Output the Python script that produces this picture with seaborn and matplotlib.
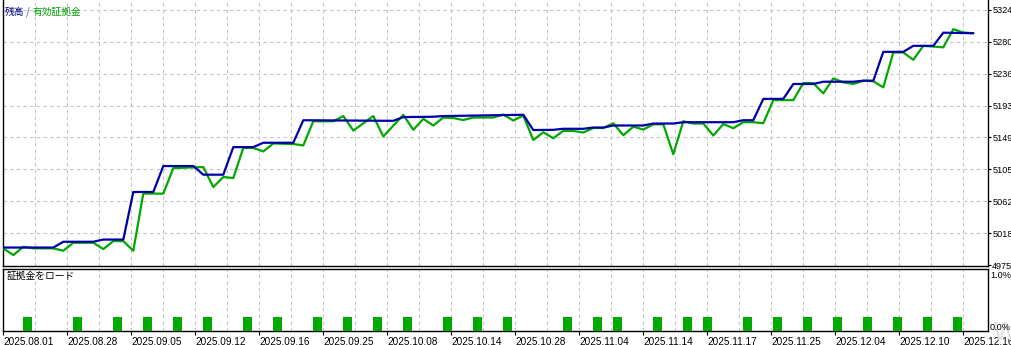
import matplotlib
matplotlib.use("Agg")
import matplotlib.pyplot as plt
import seaborn as sns
import numpy as np
import pandas as pd

# ---------------- data ----------------
# balance (残高) vertices: trade index -> value
balance_idx = [0, 5, 6, 9, 10, 12, 13, 15, 16, 19, 20, 22, 23, 25, 26, 29, 30, 39, 40, 43,
               44, 52, 53, 55, 56, 58, 59, 60, 61, 64, 65, 67, 68, 73, 74, 75, 76, 78, 79, 81,
               82, 85, 86, 87, 88, 90, 91, 93, 94, 97]
balance_val = [4998.9, 4998.9, 5006.8, 5006.8, 5009.8, 5009.8, 5074.9, 5074.9, 5110.4, 5110.4,
               5098.6, 5098.6, 5136.3, 5136.3, 5142.3, 5142.3, 5173.1, 5172.3, 5177.4, 5177.9,
               5178.8, 5180.6, 5159.7, 5160.0, 5161.4, 5161.4, 5163.1, 5163.1, 5165.9, 5165.9,
               5168.6, 5168.6, 5170.4, 5170.4, 5173.1, 5173.1, 5202.3, 5202.3, 5222.7, 5222.7,
               5225.8, 5225.8, 5227.2, 5227.2, 5266.7, 5266.7, 5274.9, 5274.9, 5292.9, 5292.2]

# equity (有効証拠金) vertices
equity_idx = [0, 1, 2, 3, 5, 6, 7, 9, 10, 11, 12, 13, 14, 16, 17, 20, 21, 22, 23, 24,
              25, 26, 27, 29, 30, 31, 33, 34, 35, 37, 38, 40, 41, 42, 43, 44, 45, 46, 47, 49,
              50, 51, 52, 53, 54, 55, 56, 57, 58, 59, 60, 61, 62, 63, 64, 65, 66, 67, 68, 69,
              70, 71, 72, 73, 74, 75, 76, 77, 79, 80, 81, 82, 83, 84, 85, 86, 87, 88, 89, 90,
              91, 92, 94, 95, 96, 97]
equity_val = [4997.8, 4988.6, 4999.9, 4997.8, 4997.8, 4994.5, 5005.4, 5005.4, 4996.8, 5007.7,
              5007.7, 4994.5, 5072.7, 5072.7, 5107.6, 5109.0, 5081.7, 5095.4, 5094.0, 5135.2,
              5135.2, 5130.4, 5141.3, 5140.6, 5138.6, 5171.7, 5171.7, 5178.8, 5159.0, 5178.8,
              5150.9, 5180.4, 5160.0, 5175.0, 5165.9, 5176.8, 5176.1, 5173.4, 5176.8, 5176.8,
              5180.9, 5172.7, 5179.5, 5146.1, 5156.7, 5148.5, 5158.6, 5158.4, 5156.3, 5162.5,
              5162.5, 5168.9, 5152.6, 5164.2, 5160.4, 5167.5, 5167.5, 5126.6, 5171.7, 5168.6,
              5168.6, 5152.2, 5167.9, 5162.2, 5170.4, 5170.4, 5169.0, 5200.6, 5200.6, 5224.1,
              5223.8, 5209.9, 5230.3, 5224.9, 5222.7, 5227.2, 5226.5, 5218.1, 5265.8, 5265.8,
              5255.8, 5274.9, 5272.9, 5297.7, 5293.1, 5292.2]

# margin load (証拠金をロード) bars, in percent
margin_idx = [2, 7, 11, 14, 17, 20, 24, 27, 31, 34, 37, 40, 44, 47, 50, 56, 59, 61, 65, 68,
              70, 74, 77, 80, 83, 86, 89, 92, 95]
margin_val = [0.22] * len(margin_idx)

y_tick_labels = ["4975", "5018", "5062", "5105", "5149", "5193", "5236", "5280", "5324"]
y_ticks = [4975 + 43.625 * k for k in range(len(y_tick_labels))]

x_tick_labels = ["2025.08.01", "2025.08.28", "2025.09.05", "2025.09.12", "2025.09.16",
                 "2025.09.25", "2025.10.08", "2025.10.14", "2025.10.28", "2025.11.04",
                 "2025.11.14", "2025.11.17", "2025.11.25", "2025.12.04", "2025.12.10",
                 "2025.12.16"]

# ---------------- style ----------------
sns.set_theme(style="white")
plt.rcParams["font.family"] = ["Liberation Sans", "Noto Sans CJK JP", "DejaVu Sans"]
CJK = ["Noto Sans CJK JP", "DejaVu Sans"]

BLUE = "#0000A8"
GREEN = "#00A800"
GRID = "#C4C4C4"

W, H = 1012, 345
fig = plt.figure(figsize=(W / 100, H / 100), dpi=100)
fig.patch.set_facecolor("white")

left = 3 / W
width = 985 / W
ax = fig.add_axes([left, 1 - 266 / H, width, 266 / H])
ax2 = fig.add_axes([left, 1 - 330.7 / H, width, (330.7 - 268.5) / H])

xmin, xmax = -0.03, 98.47
grid_x = np.arange(3.2, xmax, 3.2)

# ---------------- main panel ----------------
df_eq = pd.DataFrame({"idx": equity_idx, "val": equity_val})
df_bal = pd.DataFrame({"idx": balance_idx, "val": balance_val})
sns.lineplot(data=df_eq, x="idx", y="val", ax=ax, color=GREEN, linewidth=1.6,
             sort=False, zorder=3)
sns.lineplot(data=df_bal, x="idx", y="val", ax=ax, color=BLUE, linewidth=1.6,
             sort=False, zorder=4)

ax.set_xlim(xmin, xmax)
ax.set_ylim(4975 - 1.363, 4975 + 266 * 1.36328)
for gx in grid_x:
    ax.axvline(gx, color=GRID, linestyle=(0, (3, 3)), linewidth=0.8, zorder=1)
for gy in y_ticks[1:]:
    ax.axhline(gy, color=GRID, linestyle=(0, (3, 3)), linewidth=0.8, zorder=1)

ax.set_xticks([])
ax.yaxis.tick_right()
ax.set_yticks(y_ticks)
ax.set_yticklabels(y_tick_labels)
ax.tick_params(axis="y", which="both", right=True, length=2, width=0.8, pad=1,
               labelsize=6.6, colors="black", direction="out")
ax.set_xlabel("")
ax.set_ylabel("")
for side in ["left", "right", "bottom"]:
    ax.spines[side].set_color("black")
    ax.spines[side].set_linewidth(1.0)
ax.spines["top"].set_visible(False)

# legend-like title
fig.text(5 / W, 1 - 12 / H, "残高", color="#00008B", fontsize=7, family=CJK,
         va="center", ha="left")
fig.text(26 / W, 1 - 12 / H, "/", color="#3050C0", fontsize=7, family=CJK,
         va="center", ha="left")
fig.text(33 / W, 1 - 12 / H, "有効証拠金", color="#00A000", fontsize=7, family=CJK,
         va="center", ha="left")

# ---------------- margin panel ----------------
ax2.bar(margin_idx, margin_val, width=0.9, align="edge", color="#00AA00",
        edgecolor="none", zorder=3)
ax2.set_xlim(xmin, xmax)
ax2.set_ylim(0, 1.0)
for gx in grid_x:
    ax2.axvline(gx, color=GRID, linestyle=(0, (3, 3)), linewidth=0.8, zorder=1)
ax2.set_yticks([])
ax2.set_xticks([6.4 * k for k in range(len(x_tick_labels))])
ax2.set_xticklabels(x_tick_labels, ha="left")
ax2.tick_params(axis="x", bottom=True, length=3, width=0.8, pad=1.5,
                labelsize=7.2, colors="black", direction="out")
for side in ["left", "right", "bottom", "top"]:
    ax2.spines[side].set_color("black")
    ax2.spines[side].set_linewidth(1.0)

ax2.text(0.004, 0.88, "証拠金をロード", transform=ax2.transAxes,
         fontsize=7, family=CJK, color="black", va="center", ha="left")

# faint watermark (partly visible in the corner)
fig.text(992 / W, 1 - 345 / H, "Wi", color="#E0E0E0", fontsize=18,
         family=["DejaVu Sans"], va="bottom", ha="left", zorder=0)

fig.text(990 / W, 1 - 275 / H, "1.0%", fontsize=6.6, va="center", ha="left",
         color="black", zorder=5)
fig.text(990 / W, 1 - 328 / H, "0.0%", fontsize=6.6, va="center", ha="left",
         color="black", zorder=5)

fig.savefig("out.png", dpi=100, facecolor="white")
